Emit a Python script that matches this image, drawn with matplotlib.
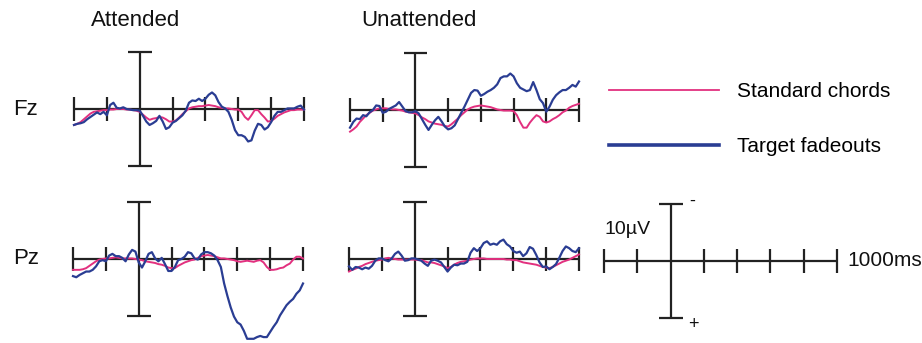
#!/usr/bin/env python3
"""ERP traces at Fz and Pz, attended vs unattended, with legend and scale bar."""

import numpy as np
import matplotlib

matplotlib.use("Agg")
import matplotlib.pyplot as plt
from matplotlib.lines import Line2D

plt.rcParams["font.family"] = ["Liberation Sans", "DejaVu Sans"]

W, H = 922, 343
INK = "#222222"
PINK = "#e2307f"
BLUE = "#2a3d93"

# time grid in ms (-400 .. 1000, 20 ms steps); amplitudes in microvolts, negative plotted up
TIME_MS = np.arange(-400, 1001, 20)
TICKS_MS = [-400, -200, 0, 200, 400, 600, 800, 1000]
SERIES = ["Standard chords", "Target fadeouts"]

att_fz_standard = [
    2.8, 2.6, 2.3, 1.8, 1.3, 0.8, 0.5, 0.4, 0.3, 0.2, 0.2, 0.1, 0.1, 0.0, 0.0, 0.0,
    0.1, 0.1, 0.2, 0.3, 0.5, 1.0, 1.5, 1.9, 1.7, 1.6, 1.4, 1.5, 1.8, 2.2, 2.2, 2.0,
    1.5, 0.9, 0.4, -0.1, -0.3, -0.4, -0.5, -0.5, -0.6, -0.7, -0.6, -0.5, -0.3, -0.2,
    -0.1, -0.1, 0.0, 0.1, 0.1, 0.5, 1.4, 1.9, 1.1, 0.2, 0.2, 0.9, 1.5, 2.2, 2.1, 1.7,
    1.2, 0.9, 0.6, 0.4, 0.2, 0.2, 0.1, 0.1, 0.1,
]
att_fz_target = [
    2.8, 2.6, 2.5, 2.3, 1.8, 1.4, 1.0, 0.6, 0.9, 0.5, 1.1, -0.7, -1.1, -0.2, -0.1, -0.3,
    0.0, 0.1, 0.2, 0.2, 0.3, 1.2, 2.2, 2.8, 2.5, 2.1, 1.2, 2.2, 3.5, 3.2, 2.4, 2.1,
    1.6, 1.1, 0.3, -1.1, -1.5, -1.4, -1.8, -1.4, -1.8, -2.5, -2.9, -2.4, -1.2, -0.4,
    -0.1, 0.5, 1.9, 3.7, 4.6, 4.6, 4.9, 5.7, 5.5, 3.8, 2.6, 2.8, 3.6, 3.2, 2.3, 1.2,
    0.5, 0.5, 0.2, -0.1, -0.1, -0.1, -0.4, -0.6, 0.1,
]
unatt_fz_standard = [
    3.8, 3.4, 2.9, 2.1, 1.5, 0.9, 0.5, 0.1, -0.1, -0.3, -0.3, -0.3, -0.2, -0.1, -0.1, 0.0,
    0.1, 0.3, 0.4, 0.5, 0.6, 0.9, 1.3, 1.6, 2.0, 2.2, 2.4, 2.5, 2.6, 2.8, 2.9, 2.5,
    2.0, 1.5, 0.9, 0.4, -0.1, -0.4, -0.6, -0.7, -0.8, -0.7, -0.6, -0.5, -0.3, -0.1,
    0.0, 0.1, 0.1, 0.1, 0.2, 0.9, 2.1, 3.1, 3.1, 2.2, 1.5, 0.9, 1.2, 2.0, 2.2, 2.0,
    1.6, 1.3, 0.9, 0.4, 0.1, -0.4, -0.7, -0.9, -1.1,
]
unatt_fz_target = [
    3.1, 2.1, 1.5, 1.6, 0.9, 1.1, 0.4, 0.0, -0.8, -0.7, 0.5, 0.3, -0.2, -0.5, -0.8, -1.4,
    -0.6, 0.2, 0.4, 0.4, 0.2, 0.6, 1.6, 2.6, 3.5, 2.6, 1.8, 1.2, 2.0, 2.9, 3.4, 3.2,
    2.7, 1.6, 0.5, -0.6, -1.8, -3.0, -3.5, -3.4, -2.5, -2.8, -3.2, -3.5, -3.9, -4.5,
    -5.6, -5.9, -5.9, -6.4, -5.9, -4.7, -3.9, -3.6, -3.3, -3.5, -4.9, -3.5, -1.9, -1.2,
    0.3, -0.6, -1.8, -2.6, -3.1, -3.5, -3.5, -3.9, -4.4, -4.1, -5.0,
]
att_pz_standard = [
    1.9, 1.9, 1.9, 1.8, 1.6, 1.2, 0.8, 0.4, 0.1, 0.0, -0.1, -0.1, -0.2, -0.3, -0.2, -0.1,
    -0.1, -0.1, -0.1, 0.0, 0.1, 0.2, 0.4, 0.5, 0.6, 0.7, 0.9, 1.0, 1.2, 1.5, 1.6, 1.6,
    1.2, 0.9, 0.6, 0.4, 0.2, 0.1, -0.2, -0.5, -0.6, -0.7, -0.6, -0.5, -0.3, -0.1,
    -0.1, 0.0, 0.1, 0.2, 0.4, 0.5, 0.4, 0.3, 0.4, 0.5, 0.3, 0.2, 0.6, 1.4, 1.9, 1.9,
    1.8, 1.6, 1.5, 1.1, 0.8, 0.1, -0.4, -0.4, -0.1,
]
att_pz_target = [
    3.0, 3.2, 2.8, 2.5, 2.2, 2.2, 1.9, 1.3, 0.4, 0.2, 0.4, -0.6, -0.9, -0.5, -0.5, -0.2,
    0.4, -0.8, -1.6, -1.3, 0.6, 1.5, 0.4, -0.9, -1.2, -0.1, 0.4, -0.2, 0.9, 2.1, 2.1, 1.4,
    0.2, 0.0, -0.4, -1.2, -1.0, -0.1, 0.1, -0.8, -1.2, -1.2, -1.0, -0.6, 0.2, 1.4,
    4.3, 6.5, 8.5, 10.1, 11.1, 11.5, 12.6, 14.0, 14.0, 14.0, 13.7, 13.5, 13.7, 13.7,
    12.8, 11.9, 11.1, 9.9, 9.0, 8.1, 7.5, 7.0, 6.1, 5.5, 4.3,
]
unatt_pz_standard = [
    2.2, 1.9, 1.7, 1.4, 1.2, 0.9, 0.7, 0.5, 0.3, 0.2, 0.1, -0.1, -0.2, -0.1, 0.0, 0.1,
    0.1, 0.1, 0.1, 0.1, 0.1, 0.2, 0.2, 0.4, 0.6, 0.6, 0.7, 0.9, 1.1, 1.3, 1.6, 1.4,
    1.0, 0.7, 0.5, 0.4, 0.3, 0.1, 0.0, -0.1, -0.1, -0.1, 0.0, 0.0, 0.0, 0.0,
    0.0, 0.0, 0.1, 0.1, 0.2, 0.2, 0.4, 0.6, 0.7, 0.8, 0.9, 1.0, 1.2, 1.4, 1.5, 1.6,
    1.4, 1.1, 0.8, 0.5, 0.3, 0.1, -0.2, -0.5, -0.8,
]
unatt_pz_target = [
    1.3, 1.9, 1.4, 1.5, 1.8, 1.5, 1.7, 1.2, 0.3, -0.1, -0.1, 0.2, 0.4, -0.1, -0.9, -1.3,
    -0.6, 0.3, 0.2, -0.1, -0.1, 0.1, 0.3, 0.8, 1.2, 0.3, 0.1, 0.3, 0.6, 1.4, 2.2, 1.5,
    1.0, 1.1, 0.8, 0.8, 0.5, -1.1, -1.9, -1.4, -1.9, -2.8, -3.1, -2.5, -2.7, -2.5,
    -3.1, -3.4, -2.6, -2.2, -1.4, -1.1, -1.3, -0.5, -1.0, -2.1, -1.8, -0.7, 0.6, 1.4,
    1.3, 1.8, 1.4, 0.9, -0.2, -1.4, -2.2, -1.9, -1.4, -1.2, -1.9,
]

# panel placement in pixels: left edge (-400 ms), right edge (1000 ms), baseline row
PANELS = [
    ("Attended", "Fz", 74, 304, 109, att_fz_standard, att_fz_target),
    ("Unattended", "Fz", 350, 579, 110, unatt_fz_standard, unatt_fz_target),
    ("Attended", "Pz", 73, 303, 259, att_pz_standard, att_pz_target),
    ("Unattended", "Pz", 349, 579, 259, unatt_pz_standard, unatt_pz_target),
]
PX_PER_UV = 5.7
Y_LIM = 16.0


def _frame_axes(fig, left, right, baseline):
    height = 2 * Y_LIM * PX_PER_UV
    ax = fig.add_axes([left / W, 1 - (baseline + height / 2) / H, (right - left) / W, height / H])
    ax.set_xlim(-400, 1000)
    ax.set_ylim(Y_LIM, -Y_LIM)
    ax.axis("off")
    return ax


def _draw_frame(ax):
    kw = dict(color=INK, lw=1.6, clip_on=False, solid_capstyle="butt")
    ax.plot([-400, 1000], [0, 0], **kw)
    for t in TICKS_MS:
        if t != 0:
            ax.plot([t, t], [-2.1, 2.1], **kw)
    ax.plot([0, 0], [-10, 10], **kw)
    ax.plot([-72, 72], [-10, -10], **kw)
    ax.plot([-72, 72], [10, 10], **kw)


fig = plt.figure(figsize=(W / 100, H / 100), dpi=100)

for title, site, left, right, baseline, standard, target in PANELS:
    ax = _frame_axes(fig, left, right, baseline)
    _draw_frame(ax)
    ax.plot(TIME_MS, standard, color=PINK, lw=1.4, clip_on=False, zorder=3)
    ax.plot(TIME_MS, target, color=BLUE, lw=1.6, clip_on=False, zorder=4)

fig.text(136 / W, 1 - 21 / H, "Attended", fontsize=16, ha="center", va="center", color="#111111")
fig.text(419 / W, 1 - 21 / H, "Unattended", fontsize=16, ha="center", va="center", color="#111111")
fig.text(13 / W, 1 - 109 / H, "Fz", fontsize=16, ha="left", va="center", color="#111111")
fig.text(13 / W, 1 - 258 / H, "Pz", fontsize=16, ha="left", va="center", color="#111111")

# scale bar panel
scale_ax = _frame_axes(fig, 604, 837, 261)
_draw_frame(scale_ax)
scale_ax.text(-400, -5.6, "10\u00b5V", fontsize=14, ha="left", va="center", color="#111111")
scale_ax.text(115, -10.5, "-", fontsize=13, ha="left", va="center", color="#111111")
scale_ax.text(105, 11.2, "+", fontsize=13, ha="left", va="center", color="#111111")
scale_ax.text(1065, 0, "1000ms", fontsize=15, ha="left", va="center", color="#111111")

handles = [
    Line2D([], [], color=PINK, lw=1.3),
    Line2D([], [], color=BLUE, lw=2.6),
]
fig.legend(
    handles, SERIES,
    loc="upper left", bbox_to_anchor=(609 / W, 1 - 82 / H),
    frameon=False, fontsize=15, handlelength=5.3, handletextpad=0.85,
    labelspacing=1.75, borderpad=0, borderaxespad=0,
)

fig.savefig("out.png", dpi=100)
